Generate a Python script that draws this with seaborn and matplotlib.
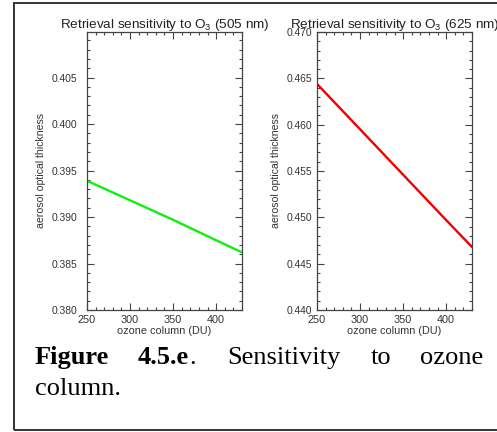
import matplotlib
matplotlib.use("Agg")
import matplotlib.pyplot as plt
import seaborn as sns
import pandas as pd
from matplotlib.patches import Rectangle
from matplotlib.ticker import MultipleLocator

# ---- data ----
ozone = [250, 300, 350, 400, 430]
aot_505 = [0.3939, 0.3918, 0.3897, 0.3875, 0.3862]
aot_625 = [0.4644, 0.4595, 0.4546, 0.4497, 0.4468]
titles = ["Retrieval sensitivity to O$_3$ (505 nm)", "Retrieval sensitivity to O$_3$ (625 nm)"]
xticks = [250, 300, 350, 400]
yticks_505 = [0.380, 0.385, 0.390, 0.395, 0.400, 0.405]
yticks_625 = [0.440, 0.445, 0.450, 0.455, 0.460, 0.465, 0.470]

sns.set_style("ticks")
plt.rcParams["font.family"] = ["Liberation Sans", "DejaVu Sans"]
plt.rcParams["mathtext.fontset"] = "custom"
plt.rcParams["mathtext.rm"] = "Liberation Sans"
plt.rcParams["mathtext.it"] = "Liberation Sans"

W, H = 497, 432
fig = plt.figure(figsize=(W / 100, H / 100), dpi=100)

def fx(px):
    return px / W

def fy(py):
    return 1 - py / H

ax_w = fx(155)
ax_h = (310 - 32) / H
axL = fig.add_axes([fx(87), fy(310), ax_w, ax_h])
axR = fig.add_axes([fx(317), fy(310), ax_w, ax_h])

df1 = pd.DataFrame({"ozone": ozone, "aot": aot_505})
df2 = pd.DataFrame({"ozone": ozone, "aot": aot_625})
sns.lineplot(data=df1, x="ozone", y="aot", ax=axL, color="#11ee11", linewidth=1.7)
sns.lineplot(data=df2, x="ozone", y="aot", ax=axR, color="#ee0000", linewidth=1.7)

spine_col = "#444444"
for ax, yt, ylim, ypad, title in [
    (axL, yticks_505, (0.380, 0.4099), 7.0, titles[0]),
    (axR, yticks_625, (0.440, 0.470), 3.6, titles[1]),
]:
    ax.set_xlim(250, 430)
    ax.set_ylim(*ylim)
    ax.set_xticks(xticks)
    ax.set_yticks(yt)
    ax.xaxis.set_minor_locator(MultipleLocator(10))
    ax.yaxis.set_minor_locator(MultipleLocator(0.001))
    ax.set_xticklabels([str(v) for v in xticks])
    ax.set_yticklabels([f"{v:.3f}" for v in yt])
    ax.tick_params(axis="both", which="both", direction="in", top=True, right=True,
                   color=spine_col, width=0.8, labelcolor="#333333")
    ax.tick_params(axis="both", which="major", length=5)
    ax.tick_params(axis="both", which="minor", length=2.5)
    ax.tick_params(axis="x", labelsize=7.8, pad=3.6)
    ax.tick_params(axis="y", labelsize=7.4, pad=ypad)
    for s in ax.spines.values():
        s.set_visible(True)
        s.set_color(spine_col)
        s.set_linewidth(0.9)
    ax.set_xlabel("ozone column (DU)", fontsize=7.8, color="#333333", labelpad=0.5)
    ax.set_ylabel("aerosol optical thickness", fontsize=7.6, color="#333333", labelpad=4)
    ax.text(0.5, 1.0144, title, transform=ax.transAxes, ha="center", va="baseline",
            fontsize=9.7, color="#222222", clip_on=False)

# ---- frame ----
fig.patches.append(Rectangle((fx(14), fy(429.5)), fx(600), fy(2.5) - fy(429.5),
                             transform=fig.transFigure, fill=False,
                             edgecolor="#333333", linewidth=1.4))

# ---- caption ----
cap_kw = dict(ha="left", va="baseline", fontsize=19, color="black",
              family=["Liberation Serif", "DejaVu Serif"])
fig.text(fx(35), fy(364), "Figure", weight="bold", **cap_kw)
t45 = fig.text(fx(138), fy(364), "4.5.e", weight="bold", **cap_kw)
fig.canvas.draw()
bb = t45.get_window_extent()
fig.text(bb.x1 / W, fy(364), ".", **cap_kw)
fig.text(fx(227), fy(364), "Sensitivity", **cap_kw)
fig.text(fx(371), fy(364), "to", **cap_kw)
fig.text(fx(420), fy(364), "ozone", **cap_kw)
fig.text(fx(35), fy(395), "column.", **cap_kw)

fig.savefig("out.png", dpi=100)
